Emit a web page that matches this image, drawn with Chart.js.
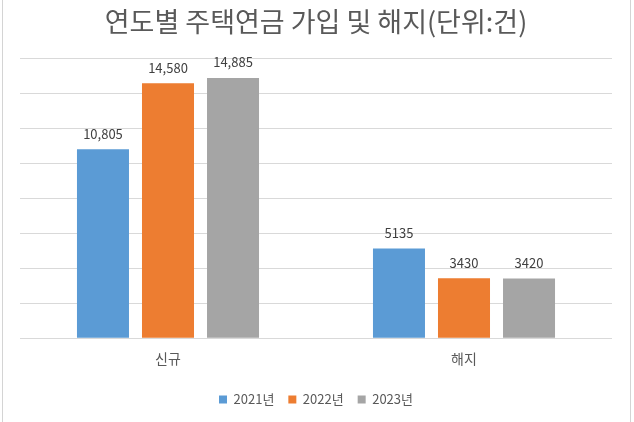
<!DOCTYPE html>
<html>
<head>
<meta charset="utf-8">
<script src="https://cdn.jsdelivr.net/npm/chart.js@4.4.1/dist/chart.umd.min.js"></script>
<style>
  html, body { margin: 0; padding: 0; background: #fff; }
  #wrap { position: relative; width: 634px; height: 422px; overflow: hidden; }
  canvas { position: absolute; left: 0; top: 0; }
  .vline { position: absolute; top: 0; width: 1px; height: 422px; background: #d4d4d4; }
</style>
</head>
<body>
<div id="wrap">
  <div class="vline" style="left:2px"></div>
  <div class="vline" style="left:630px"></div>
  <canvas id="c" width="634" height="422"></canvas>
</div>
<script>
const titleText = '연도별 주택연금 가입 및 해지(단위:건)';
const categories = ['신규', '해지'];
const seriesNames = ['2021년', '2022년', '2023년'];
const values2021 = [10805, 5135];
const values2022 = [14580, 3430];
const values2023 = [14885, 3420];
const commaByCategory = [true, false];
const yTicks = { min: 0, max: 16000, step: 2000 };
const colors = ['#5b9bd5', '#ed7d31', '#a5a5a5'];

const labelPlugin = {
  id: 'barLabels',
  afterDatasetsDraw(chart) {
    const ctx = chart.ctx;
    ctx.save();
    ctx.font = '13px "Noto Sans CJK KR", "Noto Sans", sans-serif';
    ctx.fillStyle = '#404040';
    ctx.textAlign = 'center';
    ctx.textBaseline = 'bottom';
    chart.data.datasets.forEach((ds, di) => {
      const meta = chart.getDatasetMeta(di);
      meta.data.forEach((bar, i) => {
        const v = ds.data[i];
        const txt = commaByCategory[i] ? v.toLocaleString('en-US') : String(v);
        ctx.fillText(txt, bar.x, bar.y - 9);
      });
    });
    ctx.restore();
  }
};

new Chart(document.getElementById('c'), {
  type: 'bar',
  data: {
    labels: categories,
    datasets: [
      { label: seriesNames[0], data: values2021, backgroundColor: colors[0] },
      { label: seriesNames[1], data: values2022, backgroundColor: colors[1] },
      { label: seriesNames[2], data: values2023, backgroundColor: colors[2] }
    ]
  },
  options: {
    responsive: false,
    animation: false,
    devicePixelRatio: 1,
    categoryPercentage: 0.659,
    barPercentage: 0.8,
    layout: { padding: { left: 20, right: 22, top: 0, bottom: 6 } },
    scales: {
      x: {
        grid: { display: false },
        border: { display: false },
        ticks: { color: '#595959', font: { size: 14, family: '"Noto Sans CJK KR", sans-serif' }, padding: 4 },
        afterFit(scale) { scale.height += 8; }
      },
      y: {
        min: yTicks.min, max: yTicks.max,
        ticks: { display: false, stepSize: yTicks.step },
        grid: { color: '#d9d9d9', drawTicks: false },
        border: { display: false }
      }
    },
    plugins: {
      title: {
        display: true, text: titleText, color: '#595959',
        font: { size: 27, weight: 'normal', family: '"Noto Sans CJK KR", sans-serif' },
        padding: { top: 6, bottom: 20 }
      },
      legend: {
        position: 'bottom',
        labels: {
          color: '#595959', boxWidth: 8, boxHeight: 8, padding: 14,
          font: { size: 13, family: '"Noto Sans CJK KR", sans-serif' }
        }
      },
      tooltip: { enabled: false }
    }
  },
  plugins: [labelPlugin]
});
</script>
</body>
</html>
